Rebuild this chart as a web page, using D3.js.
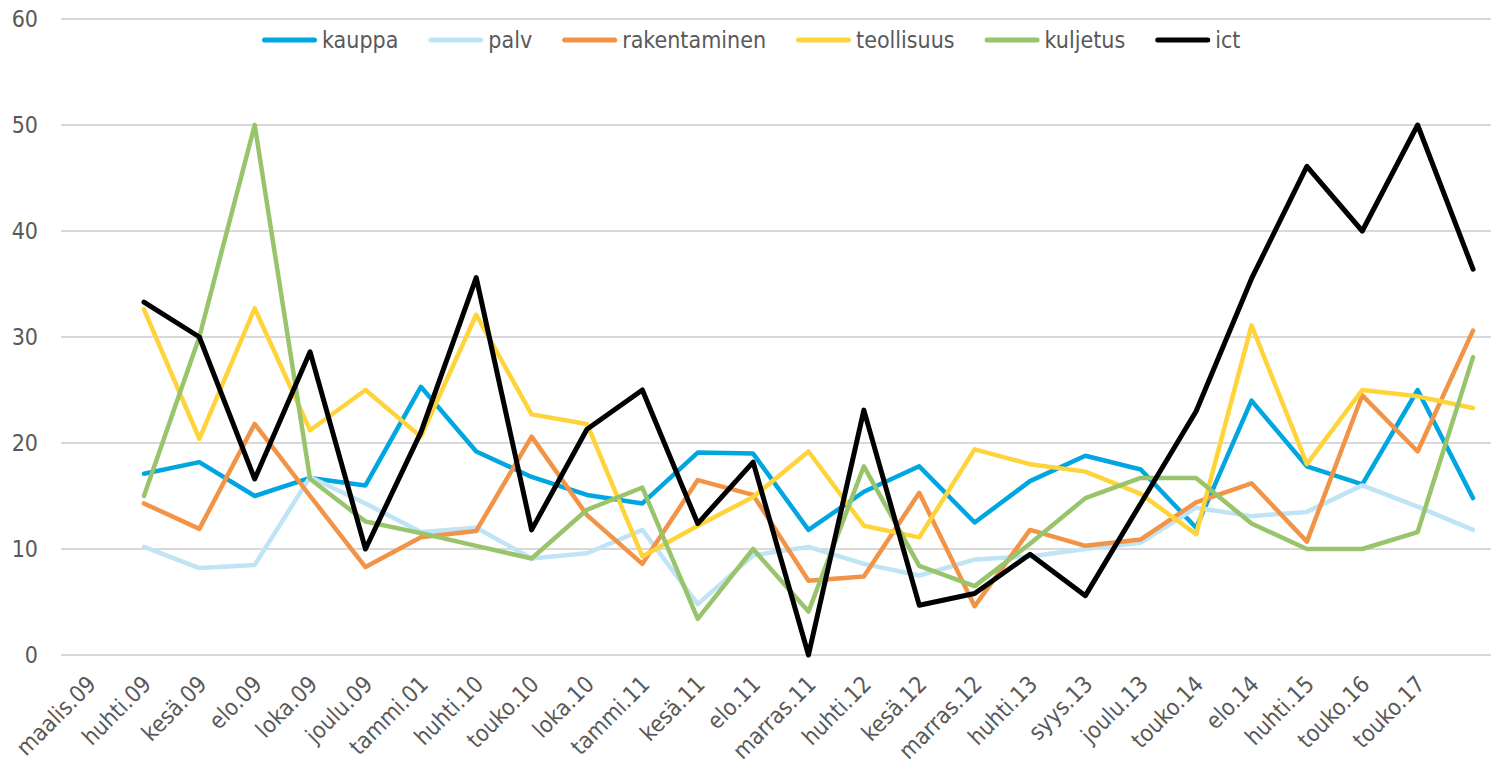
<!DOCTYPE html>
<html><head><meta charset="utf-8">
<script src="https://cdn.jsdelivr.net/npm/d3@7"></script>
<style>
html,body{margin:0;padding:0;background:#fff;}
svg{display:block;}
text{font-family:"DejaVu Sans Condensed","DejaVu Sans",sans-serif;font-stretch:condensed;fill:#595959;}
</style></head><body>
<svg id="chart" width="1491" height="763"></svg>
<script>
const categories = ["maalis.09","huhti.09","kesä.09","elo.09","loka.09","joulu.09","tammi.01","huhti.10","touko.10","loka.10","tammi.11","kesä.11","elo.11","marras.11","huhti.12","kesä.12","marras.12","huhti.13","syys.13","joulu.13","touko.14","elo.14","huhti.15","touko.16","touko.17",""];
const yTicks = [0,10,20,30,40,50,60];
const seriesNames = ["kauppa","palv","rakentaminen","teollisuus","kuljetus","ict"];
const kauppa = [null,17.1,18.2,15.0,16.7,16.0,25.3,19.2,16.8,15.1,14.3,19.1,19.0,11.8,15.4,17.8,12.5,16.4,18.8,17.5,12.0,24.0,17.8,16.1,25.0,14.8];
const palv = [null,10.2,8.2,8.5,16.8,14.3,11.6,12.0,9.1,9.6,11.8,4.8,9.4,10.2,8.6,7.5,9.0,9.3,10.0,10.6,13.9,13.1,13.5,16.0,14.0,11.8];
const rakentaminen = [null,14.3,11.9,21.8,15.0,8.3,11.1,11.7,20.6,13.2,8.6,16.5,15.1,7.0,7.4,15.3,4.6,11.8,10.3,10.9,14.4,16.2,10.7,24.5,19.2,30.6];
const teollisuus = [null,32.6,20.4,32.7,21.2,25.0,20.6,32.1,22.7,21.8,9.3,12.2,14.9,19.2,12.2,11.1,19.4,18.0,17.3,15.2,11.4,31.1,18.0,25.0,24.4,23.3];
const kuljetus = [null,15.0,30.0,50.0,16.6,12.6,11.5,10.3,9.1,13.7,15.8,3.4,10.0,4.1,17.8,8.4,6.5,10.5,14.8,16.7,16.7,12.4,10.0,10.0,11.6,28.1];
const ict = [null,33.3,30.0,16.6,28.6,10.0,21.0,35.6,11.8,21.3,25.0,12.4,18.2,0,23.1,4.7,5.8,9.5,5.6,14.3,23.0,35.5,46.1,40.0,50.0,36.4];
const seriesColors = ["#00a6e0","#bfe4f6","#f29447","#fed43a","#98c46c","#000000"];

const seriesValues = [kauppa,palv,rakentaminen,teollisuus,kuljetus,ict];
const series = seriesNames.map((n,i)=>({name:n,values:seriesValues[i],color:seriesColors[i]}));

const FS = 23;
const svg = d3.select("#chart");
const x = d3.scaleBand().domain(d3.range(categories.length)).range([60.9,1500.7]);
const cx = i => x(i) + x.bandwidth()/2;
const y = d3.scaleLinear().domain([0,60]).range([655,19]);

// gridlines
svg.append("g").selectAll("line").data(yTicks).join("line")
  .attr("x1",61).attr("x2",1491)
  .attr("y1",d=>y(d)).attr("y2",d=>y(d))
  .attr("stroke","#d9d9d9").attr("stroke-width",2);

// y axis labels
const yAxis = d3.axisLeft(y).tickValues(yTicks).tickSize(0).tickPadding(0);
const gy = svg.append("g").attr("transform","translate(38,0)").call(yAxis);
gy.select(".domain").remove();
gy.selectAll("text").attr("font-size",FS).attr("font-family",null).attr("fill","#595959");
gy.attr("font-family",null).attr("font-size",null);

// x axis labels
const xAxis = d3.axisBottom(x).tickSize(0).tickPadding(0).tickFormat(i=>categories[i]);
const gx = svg.append("g").attr("transform","translate(3,680)").call(xAxis);
gx.select(".domain").remove();
gx.attr("font-family",null).attr("font-size",null);
gx.selectAll("text")
  .attr("font-size",FS).attr("fill","#595959")
  .attr("text-anchor","end").attr("x",0).attr("y",0).attr("dy","0.35em")
  .attr("transform","rotate(-45)");

// lines
const line = d3.line().defined(d=>d.v!=null).x(d=>cx(d.i)).y(d=>y(d.v));
svg.append("g").selectAll("path").data(series).join("path")
  .attr("fill","none").attr("stroke",d=>d.color)
  .attr("stroke-width",d=>d.name==="ict"?5:4.5)
  .attr("stroke-linejoin","round").attr("stroke-linecap","round")
  .attr("d",d=>line(d.values.map((v,i)=>({v,i}))));

// legend
const lg = svg.append("g").attr("transform","translate(262,40)");
let lx = 0;
series.forEach(s=>{
  const g = lg.append("g").attr("transform",`translate(${lx},0)`);
  g.append("line").attr("x1",2.5).attr("x2",52.5).attr("y1",0).attr("y2",0)
    .attr("stroke",s.color).attr("stroke-width",5).attr("stroke-linecap","round");
  const t = g.append("text").attr("x",60).attr("y",0).attr("dy","0.35em").attr("font-size",FS).text(s.name);
  lx += 60 + t.node().getComputedTextLength() + 30;
});
</script>
</body></html>
